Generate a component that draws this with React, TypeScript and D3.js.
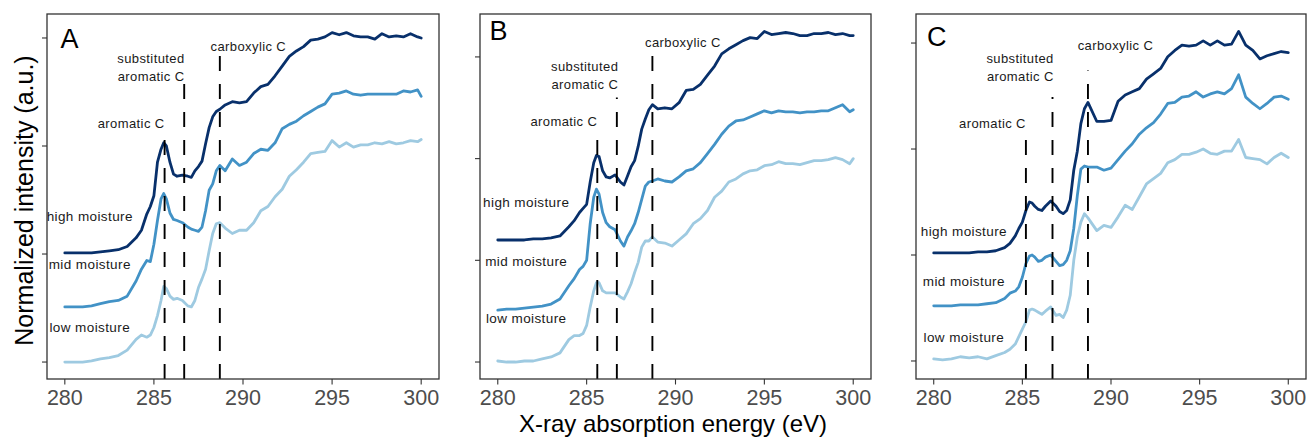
import React from 'react';
import * as d3 from 'd3';

// ---------- data ----------
const energyPre = [280, 280.5, 281, 281.5, 282, 282.5, 283, 283.5, 284, 284.3, 284.6, 284.8, 285, 285.2, 285.4, 285.55, 285.7, 285.9, 286.1, 286.3, 286.6, 286.9, 287.1, 287.3, 287.5, 287.7, 287.9, 288.1, 288.3, 288.5, 288.7];
const energyPostAB = [289, 289.4, 289.8, 290.2, 290.6, 291, 291.4, 291.8, 292.2, 292.6, 293, 293.4, 293.8, 294.2, 294.6, 295, 295.4, 295.8, 296.2, 296.6, 297, 297.4, 297.8, 298.2, 298.6, 299, 299.4, 299.8, 300];
const energyPostC = [289.2, 289.6, 290, 290.4, 290.8, 291.2, 291.6, 292, 292.4, 292.8, 293.2, 293.6, 294, 294.4, 294.8, 295.2, 295.6, 296, 296.4, 296.8, 297.2, 297.6, 298, 298.4, 298.8, 299.2, 299.6, 300];
const energyAB = energyPre.concat(energyPostAB);
const energyC = energyPre.concat(energyPostC);

const seriesNames = ['high moisture', 'mid moisture', 'low moisture'];
const panelNames = ['A', 'B', 'C'];
const xTicks = [280, 285, 290, 295, 300];
const yTicks = [0, 1, 2, 3];
const peakNames = ['aromatic C', 'substituted|aromatic C', 'carboxylic C'];

const A_high = [1.01, 1.01, 1.01, 1.01, 1.02, 1.03, 1.04, 1.07, 1.15, 1.22, 1.37, 1.44, 1.54, 1.85, 1.97, 2.03, 2.00, 1.85, 1.74, 1.72, 1.73, 1.72, 1.71, 1.77, 1.81, 1.86, 2.02, 2.17, 2.27, 2.32, 2.34, 2.38, 2.41, 2.40, 2.41, 2.49, 2.55, 2.57, 2.65, 2.74, 2.83, 2.88, 2.92, 2.98, 2.99, 3.01, 3.05, 3.03, 3.05, 3.02, 3.01, 3.01, 2.99, 3.04, 3.01, 3.02, 3.01, 3.04, 3.01, 3.00];
const A_mid = [0.51, 0.51, 0.51, 0.52, 0.54, 0.56, 0.57, 0.61, 0.75, 0.86, 0.94, 0.93, 1.09, 1.31, 1.51, 1.56, 1.51, 1.38, 1.32, 1.31, 1.29, 1.25, 1.23, 1.22, 1.21, 1.25, 1.40, 1.59, 1.65, 1.77, 1.82, 1.77, 1.88, 1.82, 1.85, 1.93, 1.97, 1.96, 2.03, 2.16, 2.20, 2.23, 2.28, 2.32, 2.36, 2.39, 2.48, 2.49, 2.51, 2.48, 2.47, 2.48, 2.48, 2.48, 2.48, 2.48, 2.51, 2.50, 2.52, 2.46];
const A_low = [0.00, 0.00, 0.00, 0.01, 0.03, 0.04, 0.06, 0.11, 0.21, 0.25, 0.23, 0.25, 0.32, 0.43, 0.57, 0.70, 0.68, 0.61, 0.58, 0.59, 0.57, 0.52, 0.51, 0.57, 0.69, 0.77, 0.86, 1.03, 1.19, 1.28, 1.29, 1.24, 1.19, 1.22, 1.22, 1.29, 1.40, 1.44, 1.53, 1.60, 1.72, 1.78, 1.85, 1.93, 1.94, 1.95, 2.05, 1.99, 2.03, 1.99, 2.01, 2.01, 2.03, 2.02, 2.04, 2.02, 2.03, 2.05, 2.04, 2.06];

const B_high = [1.20, 1.20, 1.20, 1.20, 1.21, 1.21, 1.22, 1.24, 1.33, 1.39, 1.47, 1.51, 1.55, 1.77, 1.96, 2.03, 2.02, 1.88, 1.82, 1.81, 1.84, 1.77, 1.74, 1.83, 1.92, 1.98, 2.12, 2.29, 2.39, 2.48, 2.53, 2.49, 2.50, 2.49, 2.55, 2.67, 2.68, 2.73, 2.82, 2.91, 3.03, 3.08, 3.12, 3.16, 3.19, 3.18, 3.25, 3.22, 3.23, 3.24, 3.23, 3.21, 3.21, 3.23, 3.23, 3.24, 3.22, 3.23, 3.21, 3.21];
const B_mid = [0.51, 0.52, 0.52, 0.53, 0.54, 0.55, 0.57, 0.62, 0.75, 0.82, 0.91, 0.94, 1.00, 1.36, 1.62, 1.70, 1.65, 1.47, 1.37, 1.33, 1.30, 1.19, 1.14, 1.23, 1.29, 1.36, 1.47, 1.60, 1.73, 1.77, 1.78, 1.80, 1.78, 1.77, 1.82, 1.88, 1.90, 1.96, 2.05, 2.14, 2.24, 2.32, 2.37, 2.38, 2.41, 2.44, 2.47, 2.45, 2.47, 2.46, 2.46, 2.45, 2.46, 2.46, 2.47, 2.47, 2.50, 2.53, 2.46, 2.48];
const B_low = [0.01, 0.00, 0.00, 0.01, 0.01, 0.03, 0.05, 0.09, 0.22, 0.26, 0.26, 0.28, 0.36, 0.54, 0.70, 0.78, 0.78, 0.70, 0.68, 0.68, 0.68, 0.64, 0.62, 0.69, 0.77, 0.88, 0.98, 1.13, 1.19, 1.19, 1.23, 1.18, 1.17, 1.14, 1.20, 1.26, 1.36, 1.41, 1.49, 1.62, 1.68, 1.77, 1.80, 1.85, 1.88, 1.89, 1.93, 1.94, 1.97, 1.95, 1.95, 1.94, 1.96, 1.98, 1.98, 1.99, 2.01, 1.99, 1.95, 2.00];

const C_high = [1.02, 1.02, 1.02, 1.02, 1.02, 1.03, 1.03, 1.04, 1.07, 1.11, 1.18, 1.25, 1.31, 1.42, 1.50, 1.49, 1.46, 1.43, 1.42, 1.46, 1.51, 1.46, 1.41, 1.39, 1.42, 1.52, 1.80, 1.98, 2.24, 2.38, 2.44, 2.26, 2.26, 2.27, 2.45, 2.51, 2.54, 2.57, 2.66, 2.71, 2.76, 2.87, 2.93, 2.98, 2.97, 2.98, 3.02, 2.98, 3.02, 2.98, 2.99, 3.11, 2.98, 2.93, 2.85, 2.88, 2.90, 2.92, 2.91];
const C_mid = [0.52, 0.52, 0.52, 0.53, 0.53, 0.53, 0.54, 0.55, 0.59, 0.64, 0.66, 0.70, 0.79, 0.92, 0.99, 1.00, 0.98, 0.94, 0.95, 0.98, 1.00, 0.94, 0.90, 0.91, 0.95, 1.04, 1.25, 1.56, 1.81, 1.84, 1.83, 1.83, 1.80, 1.82, 1.90, 1.98, 2.05, 2.14, 2.20, 2.25, 2.33, 2.43, 2.44, 2.49, 2.50, 2.54, 2.49, 2.52, 2.54, 2.52, 2.57, 2.70, 2.49, 2.43, 2.38, 2.43, 2.49, 2.50, 2.47];
const C_low = [0.02, 0.01, 0.02, 0.04, 0.03, 0.04, 0.02, 0.05, 0.08, 0.11, 0.16, 0.23, 0.30, 0.37, 0.48, 0.49, 0.48, 0.46, 0.44, 0.47, 0.51, 0.43, 0.44, 0.41, 0.48, 0.62, 0.95, 1.17, 1.31, 1.39, 1.35, 1.23, 1.28, 1.26, 1.36, 1.47, 1.43, 1.55, 1.67, 1.72, 1.77, 1.87, 1.90, 1.95, 1.95, 1.97, 2.00, 1.96, 1.95, 1.98, 1.98, 2.09, 1.92, 1.91, 1.90, 1.86, 1.92, 1.96, 1.92];

// peak positions (eV) and dashed-line top (a.u.)
const peaksA = [285.6, 286.7, 288.7];
const peaksB = [285.6, 286.7, 288.7];
const peaksC = [285.2, 286.7, 288.7];
const peakTopsA = [2.17, 2.62, 2.84];
const peakTopsB = [2.29, 2.60, 3.055];
const peakTopsC = [2.19, 2.49, 2.74];

// ---------- layout / style ----------
const W = 1310;
const H = 438;
const FONT = 'Liberation Sans, Arial, Helvetica, sans-serif';
const colors = ['#08306b', '#4292c6', '#9ecae1'];

const panels = [
  {
    name: panelNames[0], energy: energyAB, series: [A_high, A_mid, A_low], peaks: peaksA, tops: peakTopsA,
    x0: 47, x1: 439, y0: 14, y1: 379, yDomain: [-0.157, 3.222],
    letter: [279.76, 2.907],
    seriesLabel: { x: 281.4, y: [1.303, 0.858, 0.275] },
    peakLabel: { arom: [285.6, 2.164], sub: [286.72, 2.766, 2.599], carb: [288.18, 2.882] },
  },
  {
    name: panelNames[1], energy: energyAB, series: [B_high, B_mid, B_low], peaks: peaksB, tops: peakTopsB,
    x0: 480, x1: 871, y0: 14, y1: 379, yDomain: [-0.167, 3.422],
    letter: [279.53, 3.171],
    seriesLabel: { x: 281.6, y: [1.527, 0.941, 0.381] },
    peakLabel: { arom: [285.6, 2.323], sub: [286.78, 2.864, 2.684], carb: [288.29, 3.094] },
  },
  {
    name: panelNames[2], energy: energyC, series: [C_high, C_mid, C_low], peaks: peaksC, tops: peakTopsC,
    x0: 916, x1: 1306, y0: 14, y1: 379, yDomain: [-0.17, 3.274],
    letter: [279.62, 2.972],
    seriesLabel: { x: 281.7, y: [1.182, 0.71, 0.176] },
    peakLabel: { arom: [285.2, 2.195], sub: [286.77, 2.808, 2.639], carb: [288.12, 2.934] },
  },
];

function Panel({ p, idx }: { p: any; idx: number }) {
  const x = d3.scaleLinear().domain([279, 301]).range([p.x0, p.x1]);
  const y = d3.scaleLinear().domain(p.yDomain).range([p.y1, p.y0]);
  const line = d3
    .line<[number, number]>()
    .x((d) => x(d[0]))
    .y((d) => y(d[1]))
    .curve(d3.curveLinear);
  const clipId = `clip-${idx}`;
  const subLines = peakNames[1].split('|');
  const smallStyle: any = { fontFamily: FONT, fontSize: 13, letterSpacing: 0.4, fill: '#1a1a1a' };
  return (
    <g>
      <defs>
        <clipPath id={clipId}>
          <rect x={p.x0} y={p.y0} width={p.x1 - p.x0} height={p.y1 - p.y0} />
        </clipPath>
      </defs>
      <rect x={p.x0} y={p.y0} width={p.x1 - p.x0} height={p.y1 - p.y0} fill="#fff" />
      <g clipPath={`url(#${clipId})`}>
        {p.series.map((vals: number[], i: number) => {
          const pts: [number, number][] = vals
            .slice(0, p.energy.length)
            .map((v: number, j: number) => [p.energy[j], v]);
          return (
            <path key={i} d={line(pts) || ''} fill="none" stroke={colors[i]} strokeWidth={2.8}
              strokeLinejoin="round" strokeLinecap="round" />
          );
        })}
        {p.peaks.map((e: number, i: number) => (
          <line key={i} x1={x(e)} x2={x(e)} y1={p.y1} y2={y(p.tops[i])} stroke="#000"
            strokeWidth={1.9} strokeDasharray="15 13" />
        ))}
        {seriesNames.map((s, i) => (
          <text key={s} x={x(p.seriesLabel.x)} y={y(p.seriesLabel.y[i])} textAnchor="middle"
            style={{ fontFamily: FONT, fontSize: 13.5, letterSpacing: 0.4, fill: '#1a1a1a' }}>
            {s}
          </text>
        ))}
        <text x={x(p.peakLabel.arom[0])} y={y(p.peakLabel.arom[1])} textAnchor="end" style={smallStyle}>
          {peakNames[0]}
        </text>
        <text x={x(p.peakLabel.sub[0])} y={y(p.peakLabel.sub[1])} textAnchor="end" style={smallStyle}>
          {subLines[0]}
        </text>
        <text x={x(p.peakLabel.sub[0])} y={y(p.peakLabel.sub[2])} textAnchor="end" style={smallStyle}>
          {subLines[1]}
        </text>
        <text x={x(p.peakLabel.carb[0])} y={y(p.peakLabel.carb[1])} textAnchor="start" style={smallStyle}>
          {peakNames[2]}
        </text>
        <text x={x(p.letter[0])} y={y(p.letter[1])} style={{ fontFamily: FONT, fontSize: 27, fill: '#000' }}>
          {p.name}
        </text>
      </g>
      <rect x={p.x0} y={p.y0} width={p.x1 - p.x0} height={p.y1 - p.y0} fill="none" stroke="#333" strokeWidth={1.3} />
      {yTicks.map((t) => (
        <line key={t} x1={p.x0 - 5} x2={p.x0} y1={y(t)} y2={y(t)} stroke="#333" strokeWidth={1.1} />
      ))}
      {xTicks.map((t) => (
        <g key={t}>
          <line x1={x(t)} x2={x(t)} y1={p.y1} y2={p.y1 + 5.5} stroke="#333" strokeWidth={1.1} />
          <text x={x(t)} y={404.5} textAnchor="middle" style={{ fontFamily: FONT, fontSize: 21.5, fill: '#4d4d4d' }}>
            {t}
          </text>
        </g>
      ))}
    </g>
  );
}

export default function App() {
  return (
    <svg width={W} height={H} style={{ position: 'absolute', left: 0, top: 0, background: '#fff' }}>
      <rect x={0} y={0} width={W} height={H} fill="#fff" />
      {panels.map((p, i) => (
        <Panel key={p.name} p={p} idx={i} />
      ))}
      <text x={673} y={432} textAnchor="middle" style={{ fontFamily: FONT, fontSize: 24, fill: '#000' }}>
        X-ray absorption energy (eV)
      </text>
      <text transform="translate(33,200.5) rotate(-90)" textAnchor="middle"
        style={{ fontFamily: FONT, fontSize: 25, fill: '#000' }}>
        Normalized intensity (a.u.)
      </text>
    </svg>
  );
}
